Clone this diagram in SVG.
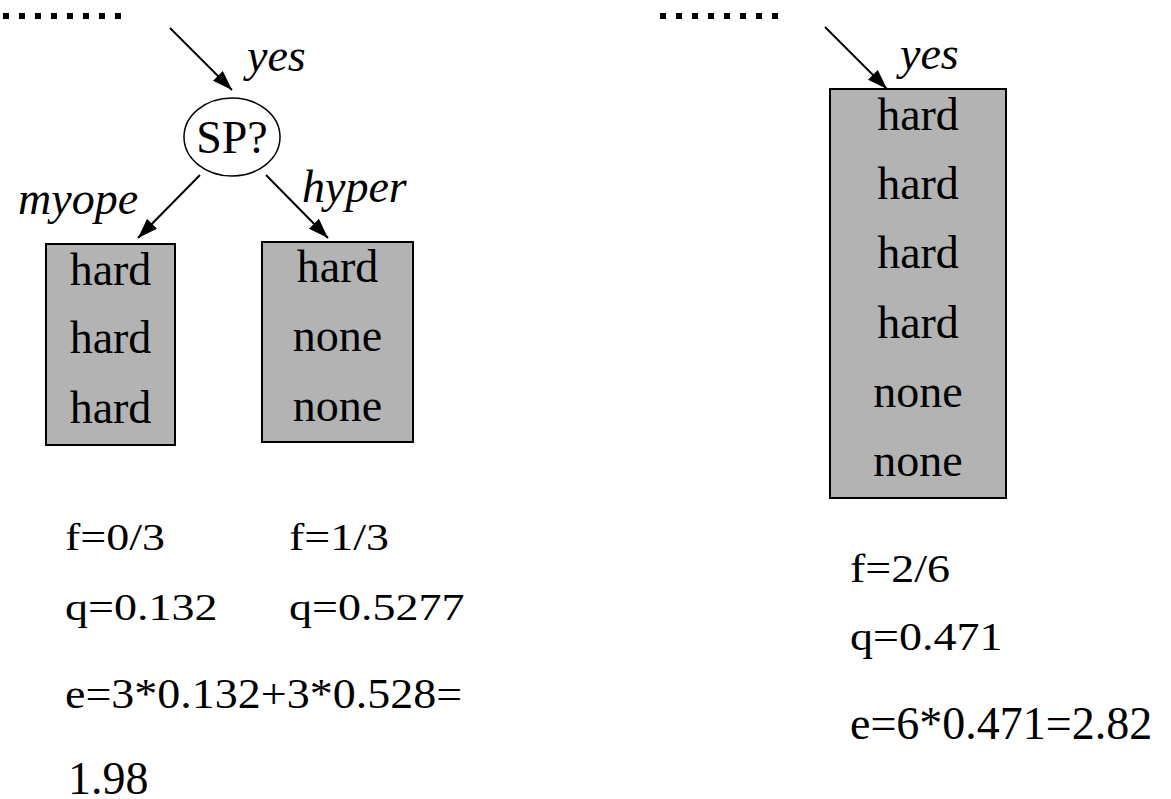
<svg xmlns="http://www.w3.org/2000/svg" width="1171" height="799" viewBox="0 0 1171 799">
  <style>
    text { font-family: "Liberation Serif", Tinos, "Times New Roman", Times, "DejaVu Serif", "Noto Serif", serif; font-size: 46px; fill: #000; }
    .i { font-style: italic; }
    .c { text-anchor: middle; }
    .box { fill: #b3b3b3; stroke: #000; stroke-width: 2; }
    .edge { stroke: #000; stroke-width: 2; fill: none; marker-end: url(#arrow); }
    .dot { fill: #000; }
  </style>
  <defs>
    <marker id="arrow" viewBox="0 0 20 14" refX="20" refY="7" markerWidth="20" markerHeight="14" markerUnits="userSpaceOnUse" orient="auto">
      <path d="M0,0 L20,7 L0,14 z" fill="#000"/>
    </marker>
    <!-- eight square dots, 16px apart -->
    <g id="dotrow">
      <rect class="dot" x="0" y="0" width="6" height="6"/>
      <rect class="dot" x="16" y="0" width="6" height="6"/>
      <rect class="dot" x="32" y="0" width="6" height="6"/>
      <rect class="dot" x="48" y="0" width="6" height="6"/>
      <rect class="dot" x="64" y="0" width="6" height="6"/>
      <rect class="dot" x="80" y="0" width="6" height="6"/>
      <rect class="dot" x="96" y="0" width="6" height="6"/>
      <rect class="dot" x="112" y="0" width="6" height="6"/>
    </g>
  </defs>

  <rect width="1171" height="799" fill="#fff"/>

  <!-- truncated upper tree, shown as dotted stubs -->
  <g id="stub-left"><use href="#dotrow" x="3" y="13"/></g>
  <g id="stub-right"><use href="#dotrow" x="660" y="13"/></g>

  <g id="connectors">
    <line class="edge" x1="170" y1="28" x2="232" y2="90"/>
    <line class="edge" x1="200" y1="175" x2="138" y2="238"/>
    <line class="edge" x1="266" y1="175" x2="328" y2="238"/>
    <line class="edge" x1="825" y1="27" x2="887" y2="89"/>
    <text class="i" x="247" y="71">yes</text>
    <text class="i" x="18" y="214">myope</text>
    <text class="i" x="302" y="202">hyper</text>
    <text class="i" x="900" y="69">yes</text>
  </g>

  <!-- split on SP -->
  <g id="node-sp">
    <ellipse cx="232" cy="137" rx="48" ry="39" fill="#fff" stroke="#000" stroke-width="1.5"/>
    <text class="c" x="232" y="153">SP?</text>
  </g>

  <g id="leaf-myope">
    <rect class="box" x="46" y="244" width="129" height="201"/>
    <text class="c" x="110.5" y="285">hard</text>
    <text class="c" x="110.5" y="353">hard</text>
    <text class="c" x="110.5" y="423">hard</text>
  </g>

  <g id="leaf-hyper">
    <rect class="box" x="262" y="242" width="151" height="200"/>
    <text class="c" x="337.5" y="282">hard</text>
    <text class="c" x="337.5" y="351">none</text>
    <text class="c" x="337.5" y="421">none</text>
  </g>

  <g id="leaf-unsplit">
    <rect class="box" x="830" y="89" width="176" height="409"/>
    <text class="c" x="918" y="130">hard</text>
    <text class="c" x="918" y="199">hard</text>
    <text class="c" x="918" y="268">hard</text>
    <text class="c" x="918" y="338">hard</text>
    <text class="c" x="918" y="407">none</text>
    <text class="c" x="918" y="476">none</text>
  </g>

  <!-- error estimates for the split subtree -->
  <g id="stats-split">
    <text transform="translate(65 550) scale(1 0.82)">f=0/3</text>
    <text transform="translate(289 550) scale(1 0.82)">f=1/3</text>
    <text transform="translate(65 620) scale(1 0.82)">q=0.132</text>
    <text transform="translate(289 620) scale(1 0.82)">q=0.5277</text>
    <text transform="translate(65 708) scale(1 0.9)">e=3*0.132+3*0.528=</text>
    <text x="68" y="794">1.98</text>
  </g>

  <!-- error estimate for the collapsed leaf -->
  <g id="stats-leaf">
    <text transform="translate(850 582) scale(1 0.88)">f=2/6</text>
    <text transform="translate(850 650) scale(1 0.88)">q=0.471</text>
    <text x="850" y="739">e=6*0.471=2.82</text>
  </g>
</svg>
